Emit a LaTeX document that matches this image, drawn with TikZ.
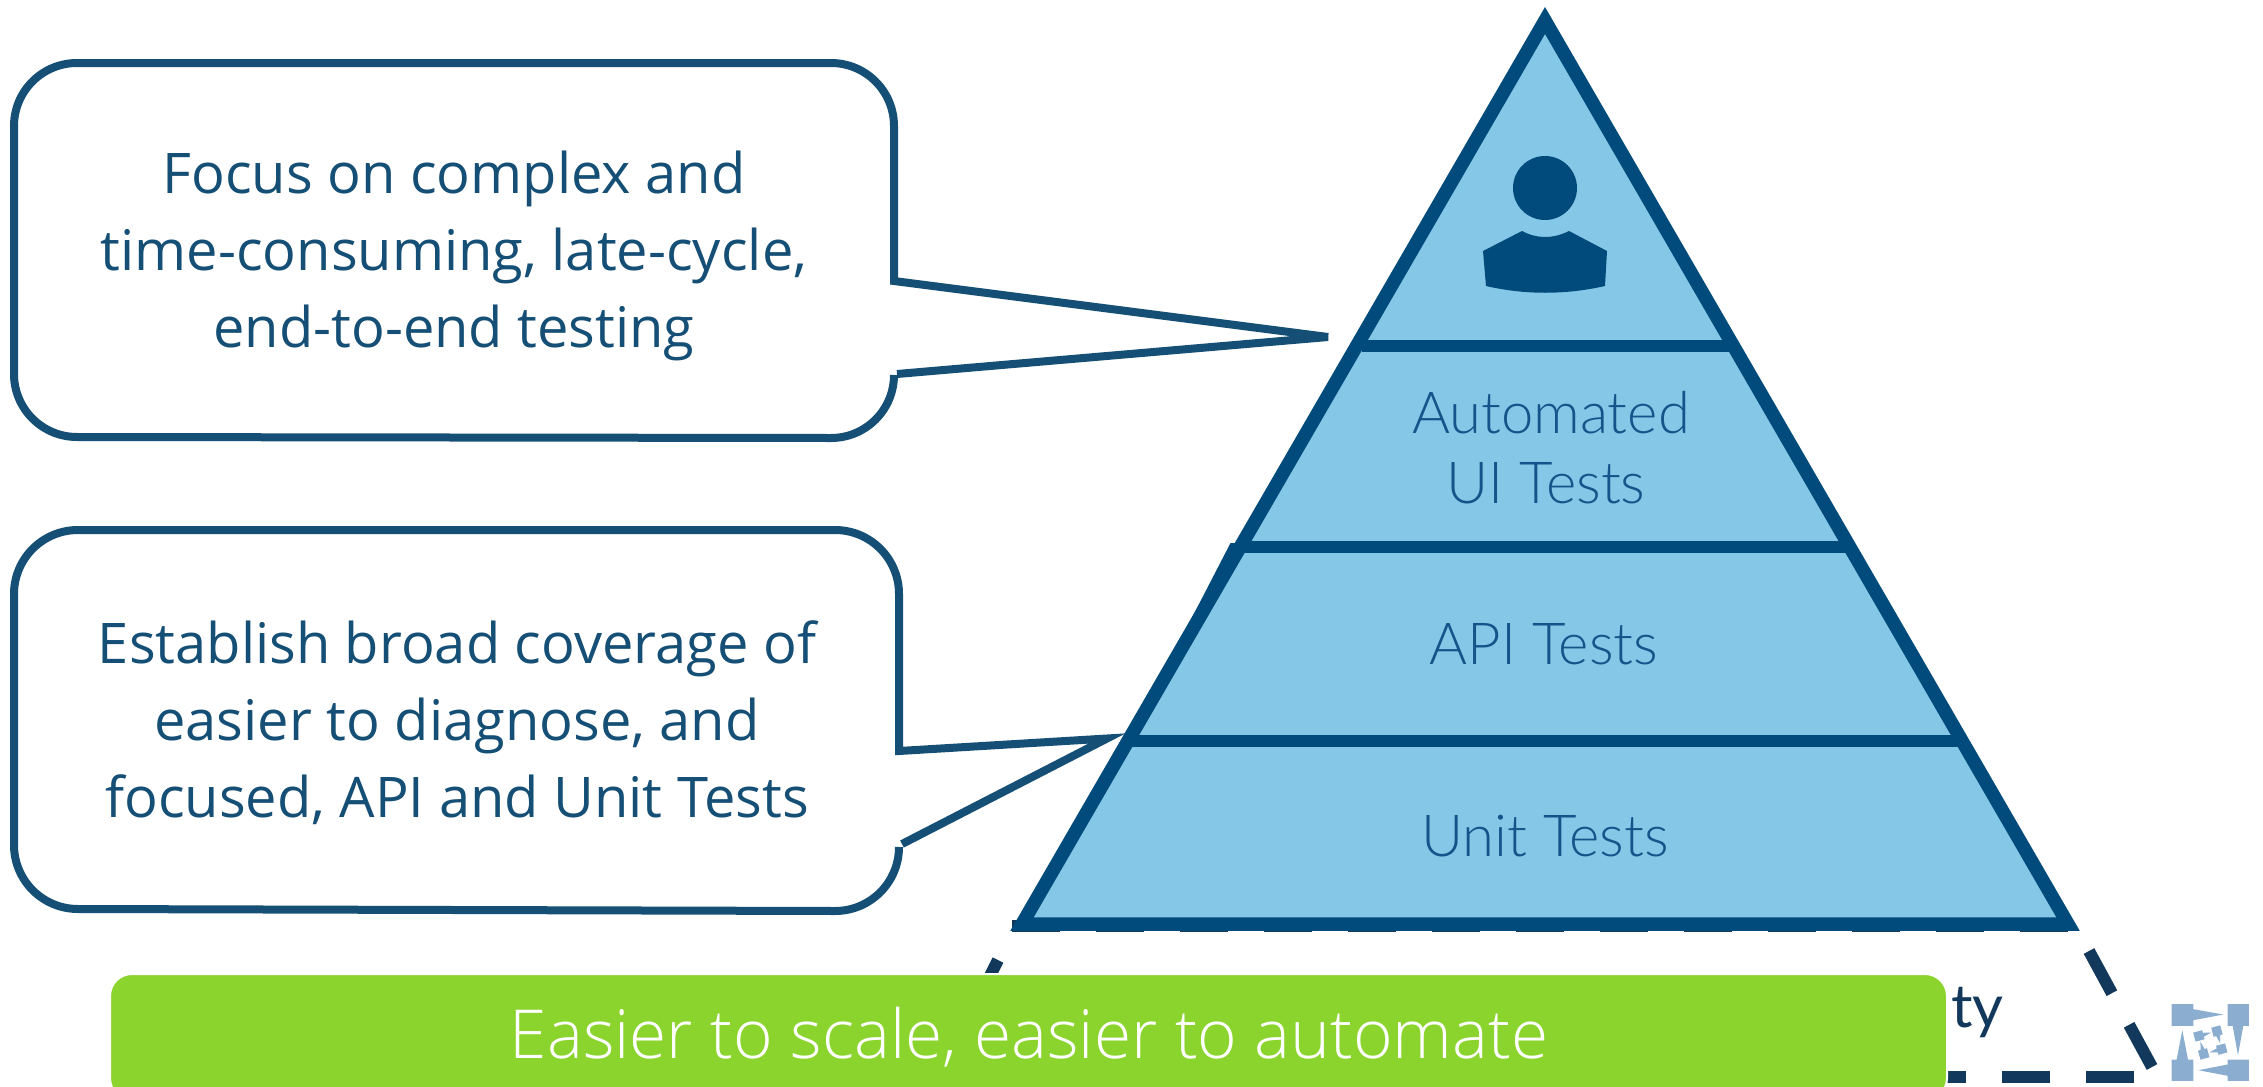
\documentclass[tikz,border=0pt]{standalone}
\usepackage{fontspec}
\setmainfont{Open Sans}
\newfontfamily\labelfont{Lato Light}
\newfontfamily\strayfont{Lato}
\newfontfamily\barfont{Open Sans Light}
\definecolor{pyrdark}{HTML}{004B7C}
\definecolor{pyrfill}{HTML}{85C7E6}
\definecolor{calloutline}{HTML}{154F76}
\definecolor{dashnavy}{HTML}{12395B}
\definecolor{barfill}{HTML}{8BD42E}
\definecolor{logoblue}{HTML}{8AADD0}
\definecolor{tierlabel}{HTML}{14548A}
\tikzset{
 x=1pt,y=-1pt,
 outline/.style={line width=13.5pt,draw=pyrdark,line join=miter},
 bar/.style={line width=12pt,draw=pyrdark},
 callout/.style={draw=calloutline,line width=8pt,line join=miter,miter limit=5},
 calltext/.style={text=calloutline,align=center,font=\fontsize{56}{77}\selectfont,inner sep=0pt},
 tiertext/.style={text=tierlabel,align=center,font=\labelfont\fontsize{58}{70}\selectfont,inner sep=0pt},
 hiddenedge/.style={draw=dashnavy,line width=12pt,dash pattern=on 48pt off 36pt},
}
\newcommand{\logoquads}{%
 \fill[logoblue] (-116,-115) -- (-51,-115) -- (-51,-100) -- (39,-84) -- (-51,-67) -- (-51,-50) -- (-116,-50) -- cycle;
 \fill[logoblue] (116,-115) -- (116,-50) -- (99,-50) -- (83,38) -- (67,-50) -- (52,-50) -- (52,-115) -- cycle;
 \fill[logoblue] (116,115) -- (52,115) -- (52,100) -- (-36,83) -- (52,66) -- (52,51) -- (116,51) -- cycle;
 \fill[logoblue] (-116,115) -- (-116,51) -- (-101,51) -- (-84,-37) -- (-67,51) -- (-51,51) -- (-51,115) -- cycle;
}
\begin{document}
\begin{tikzpicture}
\useasboundingbox (0,0) rectangle (2263,1087);
\clip (0,0) rectangle (2263,1087);
% hidden dashed pyramid
\draw[hiddenedge] (1012,926) -- (2068,926);
\draw[hiddenedge] (2089,951) -- (2152,1067);
\draw[hiddenedge] (1918,1077) -- (2134,1077);
\draw[hiddenedge] (998,960) -- (990,976);
% pyramid
\fill[pyrdark] (1230.5,543) -- (1238,543) -- (1183,635) -- cycle;
\draw[outline,fill=pyrfill] (1545,20.5) -- (2068,924) -- (1022,924) -- cycle;
\draw[bar] (1362,346) -- (1729,346);
\draw[bar] (1242,547) -- (1846,547);
\draw[bar] (1131,741) -- (1959,741);
% person
\fill[pyrdark] (1545,188) circle (32);
\fill[pyrdark] (1483,251) -- (1522,231) .. controls (1537,239) and (1553,239) .. (1569,231) -- (1607,251) -- (1605,286) .. controls (1565,295) and (1525,295) .. (1486,286) -- cycle;
% tier labels
\node[tiertext] (auto) at (1551,413) {Automated};
\node[tiertext] (ui) at (1546,483) {UI Tests};
\node[tiertext] (api) at (1544,644) {API Tests};
\node[tiertext] (unit) at (1545,836) {Unit Tests};
% callouts
\draw[callout] (894,375) arc (0:90:63) -- (77,437) arc (90:180:63) -- (14,126) arc (180:270:63) -- (831,63) arc (270:360:63) -- (894,281) -- (1328,337) -- (897,374);
\draw[callout] (899,847) arc (0:90:64) -- (78,909) arc (90:180:64) -- (14,594) arc (180:270:64) -- (835,530) arc (270:360:64) -- (899,751) -- (1107,738.5) -- (902,844);
\node[calltext] (c1) at (454,256) {Focus on complex and\\time-consuming, late-cycle,\\end-to-end testing};
\node[calltext] (c2) at (457,723) {Establish broad coverage of\\easier to diagnose, and\\focused, API and Unit Tests};
% stray text and bar
\node[text=dashnavy,anchor=base west,inner sep=0pt,font=\strayfont\fontsize{60}{60}\selectfont] (ty) at (1951,1027) {ty};
\fill[barfill,draw=white,line width=2pt,rounded corners=22pt] (110,974) rectangle (1947,1100);
\node[text=white,anchor=base,inner sep=0pt,font=\barfont\fontsize{67.6}{72}\selectfont] (bartext) at (1029,1058) {Easier to scale, easier to automate};
% logo
\begin{scope}[shift={(2210.3,1042.5)},scale=0.3333]
 \logoquads
 \begin{scope}[rotate=15]
  \foreach \quarter in {0,-90,-180,-270}{
   \fill[logoblue,rotate=\quarter] (-42,-42) -- (-14,-42) -- (-14,-34) -- (10,-28) -- (-14,-22) -- (-14,-14) -- (-42,-14) -- cycle;
  }
 \end{scope}
\end{scope}
\end{tikzpicture}
\end{document}
